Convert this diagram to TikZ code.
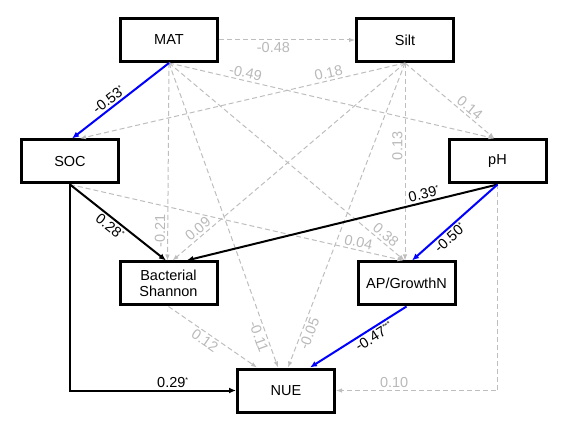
\documentclass[tikz,border=0pt]{standalone}
\usepackage{fontspec}
\setmainfont{Liberation Sans}
\usetikzlibrary{arrows.meta}
\definecolor{lgline}{RGB}{190,190,190}
\definecolor{lglbl}{RGB}{185,185,185}
\definecolor{pblue}{RGB}{0,0,255}
\newcommand{\sig}[1]{\textsuperscript{\fontsize{7}{7}\selectfont #1}}
\begin{document}
\begin{tikzpicture}[x=1pt,y=-1pt,
  box/.style={draw, line width=3pt, minimum width=97pt, minimum height=43pt, inner sep=0pt,
    font=\fontsize{14.5}{16.5}\selectfont, align=center},
  ns/.style={line width=1pt, lgline, dash pattern=on 5pt off 3pt, -{Latex[length=6pt,width=4.5pt]}},
  sigb/.style={line width=2pt, black, -{Latex[length=7pt,width=6pt]}},
  sigbl/.style={line width=2pt, pblue, -{Latex[length=7pt,width=6pt]}},
  gl/.style={text=lglbl, font=\fontsize{14.5}{16.5}\selectfont, inner sep=2pt},
  bl/.style={text=black, font=\fontsize{14.5}{16.5}\selectfont, inner sep=2pt}
]
\useasboundingbox (0,0) rectangle (576,422);

\node[box] (MAT)  at (169,40)    {MAT};
\node[box] (Silt) at (405,40)    {Silt};
\node[box] (SOC)  at (70,161.5)  {SOC};
\node[box] (pH)   at (497.5,161.5) {pH};
\node[box] (Bac)  at (168.5,283.5) {Bacterial\\Shannon};
\node[box] (AP)   at (406.5,283.5) {AP/GrowthN};
\node[box] (NUE)  at (286,390.5) {NUE};

% non-significant paths
\draw[ns] (MAT.east) -- node[gl, pos=0.4, below] {-0.48} (Silt.west);
\draw[ns] (MAT.south) -- node[gl, pos=0.23, sloped, above] {-0.49} ([xshift=-3pt]pH.north);
\draw[ns] (Silt.south) -- node[gl, pos=0.23, sloped, above] {0.18} ([xshift=10pt]SOC.north);
\draw[ns] (Silt.south) -- node[gl, pos=0.67, sloped, above] {0.14} ([xshift=-3pt]pH.north);
\draw[ns] (MAT.south) -- node[gl, pos=0.85, sloped, above] {-0.21} ([xshift=-1pt]Bac.north);
\draw[ns] (Silt.south) -- node[gl, pos=0.87, sloped, above] {0.09} ([xshift=4pt]Bac.north);
\draw[ns] (Silt.south) -- node[gl, pos=0.42, rotate=90, anchor=south] {0.13} ([xshift=-1.5pt]AP.north);
\draw[ns] (MAT.south) -- node[gl, pos=0.9, sloped, above] {0.38} ([xshift=-2pt]AP.north);
\draw[ns] (SOC.south) -- node[gl, pos=0.86, sloped, above] {0.04} ([xshift=-3pt]AP.north);
\draw[ns] (MAT.south) -- node[gl, pos=0.89, sloped, below] {-0.11} ([xshift=-8pt]NUE.north);
\draw[ns] (Silt.south) -- node[gl, pos=0.88, sloped, below] {-0.05} ([xshift=2pt]NUE.north);
\draw[ns] (Bac.south) -- node[gl, pos=0.46, sloped, below] {0.12} ([xshift=-29pt]NUE.north);
\draw[ns] (pH.south) |- node[gl, pos=0.82, above] {0.10} (NUE.east);

% significant paths
\draw[sigbl] (MAT.south) -- node[bl, pos=0.57, sloped, above] {-0.53\sig{*}} ([xshift=2pt]SOC.north);
\draw[sigb] (SOC.south) -- node[bl, pos=0.47, sloped, below] {0.28\sig{*}} ([xshift=-2.5pt]Bac.north);
\draw[sigb] (pH.south) -- node[bl, pos=0.23, sloped, above] {0.39\sig{*}} ([xshift=18pt]Bac.north);
\draw[sigbl] (pH.south) -- node[bl, pos=0.62, sloped, below] {-0.50\sig{*}} ([xshift=5.5pt]AP.north);
\draw[sigbl] (AP.south) -- node[bl, pos=0.38, sloped, below] {-0.47\sig{***}} ([xshift=24pt]NUE.north);
\draw[sigb] (SOC.south) |- node[bl, pos=0.81, above] {0.29\sig{*}} (NUE.west);
\end{tikzpicture}
\end{document}
